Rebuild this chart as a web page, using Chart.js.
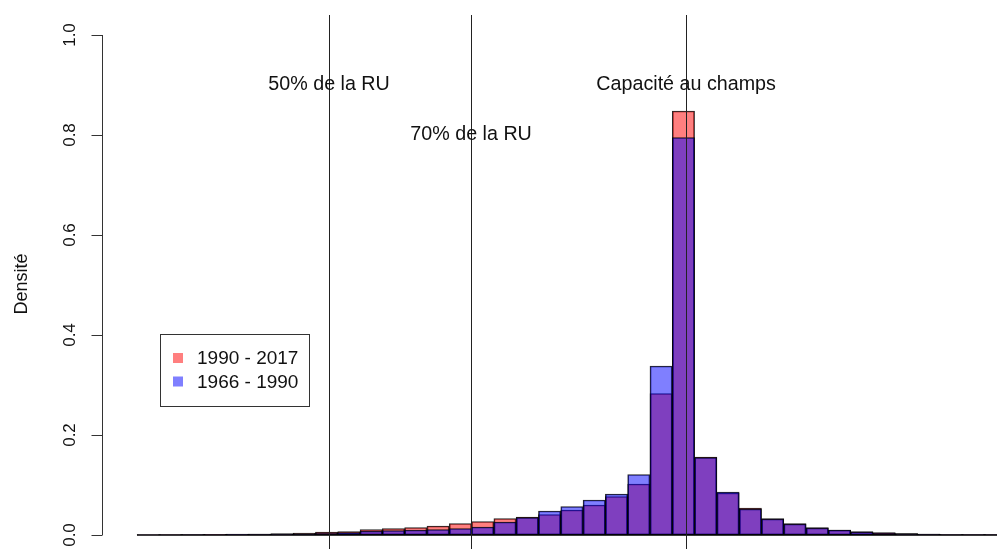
<!DOCTYPE html>
<html>
<head>
<meta charset="utf-8">
<script src="https://cdn.jsdelivr.net/npm/chart.js@4"></script>
<style>
  html, body { margin: 0; padding: 0; background: #fff; }
  #wrap { width: 997px; height: 549px; }
</style>
</head>
<body>
<div id="wrap"><canvas id="myChart" width="997" height="549"></canvas></div>
<script>
// bins (histogram classes, in bin units, centre of each class)
var bins = [0.5, 1.5, 2.5, 3.5, 4.5, 5.5, 6.5, 7.5, 8.5, 9.5,
            10.5, 11.5, 12.5, 13.5, 14.5, 15.5, 16.5, 17.5, 18.5, 19.5,
            20.5, 21.5, 22.5, 23.5, 24.5, 25.5, 26.5, 27.5, 28.5, 29.5,
            30.5, 31.5, 32.5, 33.5, 34.5, 35.5, 36.5, 37.5, 38.5];

// densities 1990 - 2017 (red)
var dens1990 = [0.0005, 0.001, 0.001, 0.0015, 0.002, 0.002, 0.003, 0.004, 0.006, 0.007,
                0.011, 0.013, 0.015, 0.018, 0.023, 0.027, 0.033, 0.036, 0.041, 0.050,
                0.060, 0.077, 0.102, 0.283, 0.848, 0.156, 0.084, 0.054, 0.033, 0.023,
                0.015, 0.010, 0.007, 0.005, 0.003, 0.002, 0.001, 0.001, 0.001];

// densities 1966 - 1990 (blue)
var dens1966 = [0.0003, 0.0005, 0.001, 0.001, 0.0015, 0.002, 0.002, 0.003, 0.004, 0.005,
                0.008, 0.009, 0.010, 0.011, 0.013, 0.016, 0.026, 0.035, 0.048, 0.057,
                0.070, 0.082, 0.121, 0.338, 0.795, 0.155, 0.086, 0.052, 0.032, 0.022,
                0.014, 0.010, 0.006, 0.004, 0.003, 0.002, 0.001, 0.001, 0.001];

var yTicks = [0, 0.2, 0.4, 0.6, 0.8, 1.0];
var yTickLabels = ['0.0', '0.2', '0.4', '0.6', '0.8', '1.0'];

// vertical reference lines and their labels
var refLines = [8.61, 14.98, 24.62];
var refLabels = ['50% de la RU', '70% de la RU', 'Capacité au champs'];
var refLabelY = [0.9, 0.8, 0.9];

var seriesNames = ['1990 - 2017', '1966 - 1990'];
var red = 'rgba(255,0,0,0.5)';
var blue = 'rgba(0,0,255,0.5)';

function toPoints(arr) {
    return arr.map(function (v, i) { return {x: bins[i], y: v}; });
}

var FONT = '"Liberation Sans", Arial, Helvetica, sans-serif';

// R-like axis, lines, labels and legend
var decor = {
    id: 'decor',
    afterDatasetsDraw: function (chart) {
        var c = chart.ctx, xs = chart.scales.x, ys = chart.scales.y, a = chart.chartArea;
        var y0 = ys.getPixelForValue(0);
        c.save();
        // baseline of the histogram
        c.strokeStyle = '#000';
        c.lineWidth = 1.5;
        c.beginPath();
        c.moveTo(xs.getPixelForValue(0), y0);
        c.lineTo(a.right, y0);
        c.stroke();

        // vertical lines
        c.strokeStyle = '#222';
        c.lineWidth = 1;
        refLines.forEach(function (v) {
            var x = Math.round(xs.getPixelForValue(v)) + 0.5;
            c.beginPath();
            c.moveTo(x, a.top);
            c.lineTo(x, a.bottom);
            c.stroke();
        });

        // labels on lines
        c.fillStyle = '#111';
        c.font = '19.7px ' + FONT;
        c.textAlign = 'center';
        c.textBaseline = 'middle';
        refLines.forEach(function (v, i) {
            c.fillText(refLabels[i], xs.getPixelForValue(v), ys.getPixelForValue(refLabelY[i]));
        });

        // y axis
        var ax = a.left + 0.5;
        c.strokeStyle = '#333';
        c.beginPath();
        c.moveTo(ax, ys.getPixelForValue(yTicks[0]));
        c.lineTo(ax, ys.getPixelForValue(yTicks[yTicks.length - 1]));
        yTicks.forEach(function (t) {
            var y = Math.round(ys.getPixelForValue(t)) + 0.5;
            c.moveTo(ax, y);
            c.lineTo(ax - 11, y);
        });
        c.stroke();
        c.font = '17px ' + FONT;
        yTicks.forEach(function (t, i) {
            c.save();
            c.translate(70, ys.getPixelForValue(t));
            c.rotate(-Math.PI / 2);
            c.fillText(yTickLabels[i], 0, 0);
            c.restore();
        });
        c.font = '18px ' + FONT;
        c.save();
        c.translate(22, 284);
        c.rotate(-Math.PI / 2);
        c.fillText('Densité', 0, 0);
        c.restore();

        // legend box
        c.strokeStyle = '#333';
        c.strokeRect(160.5, 334.5, 149, 72);
        var cols = [red, blue];
        c.textAlign = 'left';
        c.font = '19px ' + FONT;
        seriesNames.forEach(function (n, i) {
            var cy = 358 + i * 23.5;
            c.fillStyle = cols[i];
            c.fillRect(173, cy - 5, 10, 10);
            c.fillStyle = '#111';
            c.fillText(n, 197, cy + 1);
        });
        c.restore();
    }
};

var ctx = document.getElementById('myChart').getContext('2d');
var myChart = new Chart(ctx, {
    type: 'bar',
    data: {
        datasets: [
            {
                label: seriesNames[0],
                data: toPoints(dens1990),
                backgroundColor: red,
                borderColor: 'rgba(0,0,0,0.85)',
                borderWidth: 1,
                borderSkipped: false,
                order: 2
            },
            {
                label: seriesNames[1],
                data: toPoints(dens1966),
                backgroundColor: blue,
                borderColor: 'rgba(0,0,0,0.85)',
                borderWidth: 1,
                borderSkipped: false,
                order: 1
            }
        ]
    },
    options: {
        responsive: false,
        animation: false,
        grouped: false,
        barPercentage: 1,
        categoryPercentage: 1,
        layout: { padding: { left: 102, right: 0, top: 15, bottom: 0 } },
        scales: {
            x: { type: 'linear', offset: false, min: -1.57, max: 38.56, display: false },
            y: { min: -0.028, max: 1.04, display: false }
        },
        plugins: {
            legend: { display: false },
            tooltip: { enabled: false }
        }
    },
    plugins: [decor]
});
</script>
</body>
</html>
